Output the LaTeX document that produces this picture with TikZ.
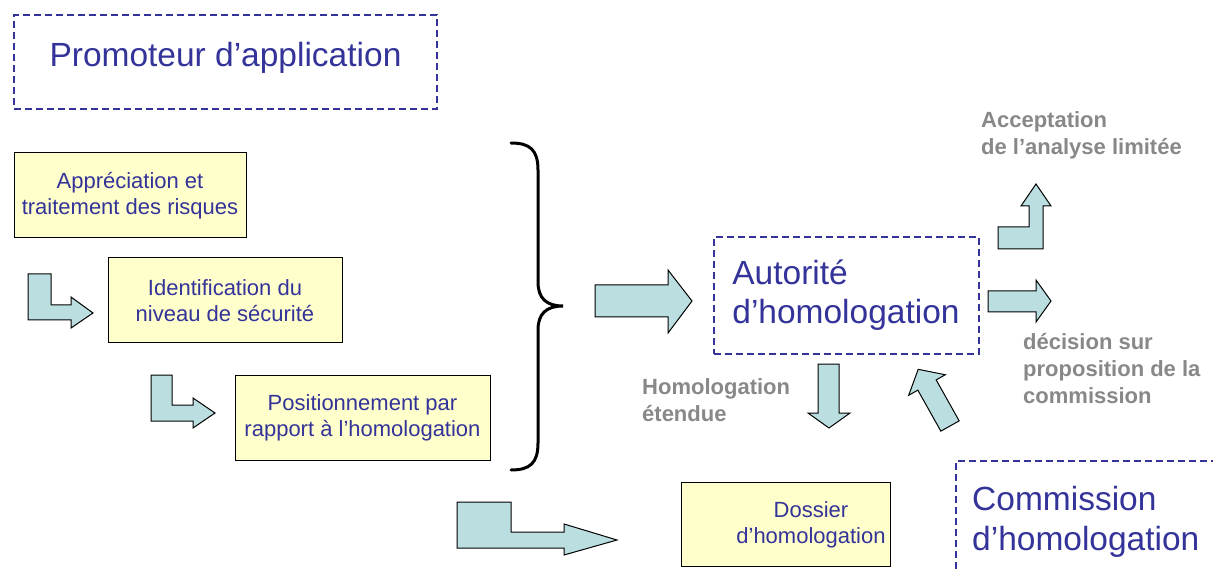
\documentclass[tikz,border=0pt]{standalone}
\usepackage{fontspec}
\setmainfont{Liberation Sans}
\usepackage{xcolor}
\usepackage{tikz}

\definecolor{darkblue}{HTML}{333399}
\definecolor{paleyellow}{HTML}{FFFFCC}
\definecolor{arrowfill}{HTML}{BBDFE1}
\definecolor{labelgrey}{HTML}{888888}

\begin{document}
\begin{tikzpicture}[x=1pt,y=-1pt,
    actor/.style={rectangle,draw=darkblue,line width=2pt,dash pattern=on 7pt off 4pt,text=darkblue,align=left,font=\fontsize{33.5}{39}\selectfont},
    actortext/.style={text=darkblue,align=left,inner sep=0pt,font=\fontsize{33.5}{40}\selectfont},
    task/.style={rectangle,draw,fill=paleyellow,line width=1pt,text=darkblue,align=center,font=\fontsize{22}{26}\selectfont},
    note/.style={text=labelgrey,align=left,inner sep=0pt,font=\fontsize{22}{27}\selectfont\bfseries},
    blockarrow/.style={draw,fill=arrowfill,line width=1pt,line join=miter}
]
\useasboundingbox (0,0) rectangle (1213,569);

% actors
\node[actor,minimum width=423pt,minimum height=94pt,text depth=16pt] (promoteur) at (225.5,62) {Promoteur d'application};
\node[actor,minimum width=265pt,minimum height=117pt] (autorite) at (846,295.5) {Autorité\\d'homologation};
\draw[darkblue,line width=2pt,dash pattern=on 7pt off 4pt] (956,569) -- (956,461) -- (1213,461);
\node[actortext,anchor=base west] (commission) at (972,550) {Commission\\d'homologation};

% tasks
\node[task,minimum width=232pt,minimum height=85pt] (risques) at (130,195.5) {Appréciation et\\traitement des risques};
\node[task,minimum width=234pt,minimum height=85pt] (niveau) at (225,300.5) {Identification du\\niveau de sécurité};
\node[task,minimum width=255pt,minimum height=85pt] (position) at (362.5,417.5) {Positionnement par\\rapport à l'homologation};
\node[task,minimum width=209pt,minimum height=84pt] (dossier) at (785.5,524) {};
\node[task,draw=none,fill=none,inner sep=0pt] (dossiertext) at (811,525) {Dossier\\d'homologation};

% notes
\node[note,anchor=base west] (acceptation) at (981,155) {Acceptation\\de l'analyse limitée};
\node[note,anchor=base west] (decision) at (1023,403) {décision sur\\proposition de la\\commission};
\node[note,anchor=base west] (etendue) at (642,421) {Homologation\\étendue};

% brace
\draw[line width=3pt,line cap=round] (511,143) .. controls (530,143) and (538,150) .. (538,170) -- (538,282)
    .. controls (538,298) and (546,306) .. (563,306) .. controls (546,306) and (538,314) .. (538,330)
    -- (538,443) .. controls (538,463) and (530,470) .. (511,470);

% block arrows
\draw[blockarrow] (28,274) -- (51,274) -- (51,305) -- (71,305) -- (71,297) -- (93,313) -- (71,328) -- (71,320) -- (28,320) -- cycle;
\draw[blockarrow] (151,375) -- (172,375) -- (172,405) -- (193,405) -- (193,398) -- (215,413) -- (193,428) -- (193,421) -- (151,421) -- cycle;
\draw[blockarrow] (457,502) -- (511,502) -- (511,532) -- (564,532) -- (564,524) -- (617,540) -- (564,555) -- (564,548) -- (457,548) -- cycle;
\draw[blockarrow] (595,285) -- (668,285) -- (668,270) -- (692,301) -- (668,333) -- (668,317) -- (595,317) -- cycle;
\draw[blockarrow] (988,291) -- (1036,291) -- (1036,280) -- (1051,301) -- (1036,322) -- (1036,312) -- (988,312) -- cycle;
\draw[blockarrow] (998,249) -- (1043,249) -- (1043,206) -- (1051,206) -- (1036,184) -- (1021,206) -- (1029,206) -- (1029,227) -- (998,227) -- cycle;
\draw[blockarrow] (818,364) -- (839,364) -- (839,413) -- (850,413) -- (829,428) -- (808,413) -- (818,413) -- cycle;
\begin{scope}[shift={(950,426)},rotate=29.3]
  \draw[blockarrow] (-10.5,0) -- (10.5,0) -- (10.5,-47) -- (21,-47) -- (0,-65) -- (-21,-47) -- (-10.5,-47) -- cycle;
\end{scope}
\end{tikzpicture}
\end{document}
